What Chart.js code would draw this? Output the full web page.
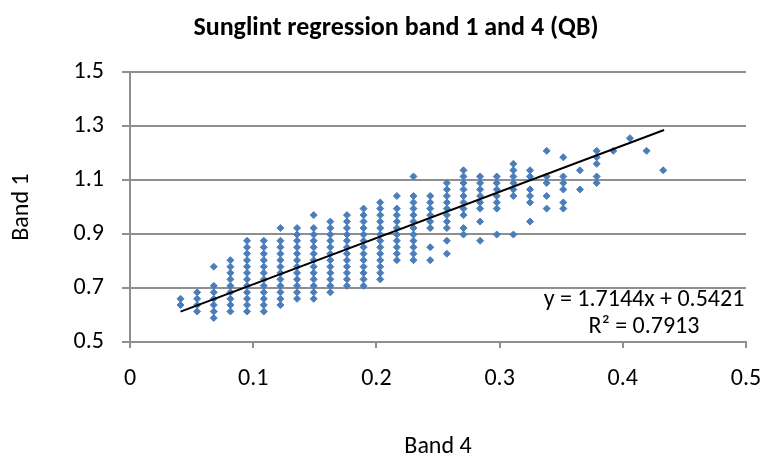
<!DOCTYPE html>
<html>
<head>
<meta charset="utf-8">
<script src="https://cdn.jsdelivr.net/npm/chart.js@4.4.1/dist/chart.umd.min.js"></script>
<style>
  html, body { margin: 0; padding: 0; background: #fff; }
  #wrap { width: 764px; height: 462px; }
</style>
</head>
<body>
<div id="wrap"><canvas id="chart"></canvas></div>
<script>
const chartTitle = "Sunglint regression band 1 and 4 (QB)";
const xTitle = "Band 4";
const yTitle = "Band 1";

// band 4 value of each column of points
const band4 = [0.041, 0.0545, 0.068, 0.0815, 0.095, 0.1086, 0.1221, 0.1356, 0.1491, 0.1626,
               0.1761, 0.1896, 0.2031, 0.2166, 0.2301, 0.2437, 0.2572, 0.2707, 0.2842, 0.2977,
               0.3112, 0.3247, 0.3382, 0.3517, 0.3652, 0.3788, 0.3923, 0.4058, 0.4193, 0.4328];

// band 1 values found in each column
const band1 = [
  [0.637, 0.660],
  [0.613, 0.637, 0.660, 0.684],
  [0.589, 0.613, 0.637, 0.660, 0.684, 0.708, 0.779],
  [0.613, 0.637, 0.660, 0.684, 0.708, 0.732, 0.756, 0.779, 0.803],
  [0.613, 0.637, 0.660, 0.684, 0.708, 0.732, 0.756, 0.779, 0.803, 0.827, 0.851, 0.875],
  [0.613, 0.637, 0.660, 0.684, 0.708, 0.732, 0.756, 0.779, 0.803, 0.827, 0.851, 0.875],
  [0.637, 0.660, 0.684, 0.708, 0.732, 0.756, 0.779, 0.803, 0.827, 0.851, 0.875, 0.922],
  [0.660, 0.684, 0.708, 0.732, 0.756, 0.779, 0.803, 0.827, 0.851, 0.875, 0.898, 0.922],
  [0.660, 0.684, 0.708, 0.732, 0.756, 0.779, 0.803, 0.827, 0.851, 0.875, 0.898, 0.922, 0.970],
  [0.684, 0.708, 0.732, 0.756, 0.779, 0.803, 0.827, 0.851, 0.875, 0.898, 0.922, 0.946],
  [0.708, 0.732, 0.756, 0.779, 0.803, 0.827, 0.851, 0.875, 0.898, 0.922, 0.946, 0.970],
  [0.708, 0.732, 0.756, 0.779, 0.803, 0.827, 0.851, 0.875, 0.898, 0.922, 0.946, 0.970, 0.994],
  [0.732, 0.756, 0.779, 0.803, 0.827, 0.851, 0.875, 0.898, 0.922, 0.946, 0.970, 0.994, 1.017],
  [0.803, 0.827, 0.851, 0.875, 0.898, 0.922, 0.946, 0.970, 0.994, 1.041],
  [0.803, 0.827, 0.851, 0.875, 0.898, 0.922, 0.946, 0.970, 0.994, 1.017, 1.041, 1.113],
  [0.803, 0.851, 0.922, 0.946, 0.970, 0.994, 1.017, 1.041],
  [0.827, 0.875, 0.922, 0.946, 0.970, 0.994, 1.017, 1.041, 1.065, 1.089],
  [0.898, 0.922, 0.970, 0.994, 1.017, 1.041, 1.065, 1.089, 1.113, 1.136],
  [0.875, 0.946, 0.994, 1.017, 1.041, 1.065, 1.089, 1.113],
  [0.898, 0.994, 1.017, 1.041, 1.065, 1.089, 1.113],
  [0.898, 1.041, 1.065, 1.089, 1.113, 1.136, 1.160],
  [0.946, 1.017, 1.041, 1.065, 1.113, 1.136],
  [0.994, 1.041, 1.089, 1.113, 1.208],
  [0.994, 1.017, 1.065, 1.089, 1.113, 1.184],
  [1.065, 1.136],
  [1.089, 1.113, 1.160, 1.184, 1.208],
  [1.208],
  [1.255],
  [1.208],
  [1.136]
];

// linear trendline shown on the chart
const trendSlope = 1.7144;
const trendIntercept = 0.5421;
const trendFrom = 0.041;
const trendTo = 0.4335;
const trendText = ["y = 1.7144x + 0.5421", "R\u00b2 = 0.7913"];

const xTickLabels = ["0", "0.1", "0.2", "0.3", "0.4", "0.5"];
const yTickLabels = ["0.5", "0.7", "0.9", "1.1", "1.3", "1.5"];

const FONT = "Carlito, 'Open Sans', sans-serif";
const GRID = "#8f8f8f";

const points = [];
band4.forEach((x, i) => band1[i].forEach(y => points.push({ x, y })));

const trend = [trendFrom, trendTo].map(x => ({ x, y: trendSlope * x + trendIntercept }));

const overlay = {
  id: "overlay",
  afterDraw(chart) {
    const ctx = chart.ctx;
    ctx.save();
    ctx.fillStyle = "#000";
    ctx.textAlign = "center";
    ctx.textBaseline = "middle";
    ctx.font = "bold 26px " + FONT;
    ctx.fillText(chartTitle, 396, 28);
    ctx.font = "24px " + FONT;
    ctx.fillText(trendText[0], 644, 300);
    ctx.fillText(trendText[1], 644, 327);
    ctx.restore();
  }
};

new Chart(document.getElementById("chart"), {
  type: "scatter",
  data: {
    datasets: [
      {
        type: "line",
        data: trend,
        borderColor: "#000",
        borderWidth: 2,
        pointRadius: 0,
        fill: false
      },
      {
        data: points,
        pointStyle: "rectRot",
        pointRadius: 3.5,
        borderWidth: 1,
        backgroundColor: "#4a7ebb",
        borderColor: "#4a7ebb"
      }
    ]
  },
  options: {
    responsive: true,
    maintainAspectRatio: false,
    animation: false,
    layout: { padding: { left: 0, right: 18, top: 72, bottom: 0 } },
    plugins: {
      legend: { display: false },
      tooltip: { enabled: false }
    },
    scales: {
      x: {
        type: "linear",
        min: 0,
        max: 0.5,
        afterFit: s => { s.height = 120; s.paddingLeft = 0; s.paddingRight = 0; },
        ticks: {
          stepSize: 0.1,
          padding: 17,
          color: "#000",
          font: { family: FONT, size: 24 },
          callback: (v, i) => xTickLabels[i]
        },
        grid: { drawOnChartArea: false, drawTicks: true, tickLength: 6, color: GRID, lineWidth: 2 },
        border: { display: true, color: GRID, width: 2 },
        title: {
          display: true,
          text: xTitle,
          color: "#000",
          font: { family: FONT, size: 24 },
          padding: 1
        }
      },
      y: {
        min: 0.5,
        max: 1.5,
        afterFit: s => { s.width = 130; s.paddingTop = 0; s.paddingBottom = 0; },
        ticks: {
          stepSize: 0.2,
          padding: 18,
          color: "#000",
          font: { family: FONT, size: 24 },
          callback: (v, i) => yTickLabels[i]
        },
        grid: { color: GRID, lineWidth: 2, tickLength: 8 },
        border: { display: true, color: GRID, width: 2 },
        title: {
          display: true,
          text: yTitle,
          color: "#000",
          font: { family: FONT, size: 24 },
          padding: 8
        }
      }
    }
  },
  plugins: [overlay]
});
</script>
</body>
</html>
